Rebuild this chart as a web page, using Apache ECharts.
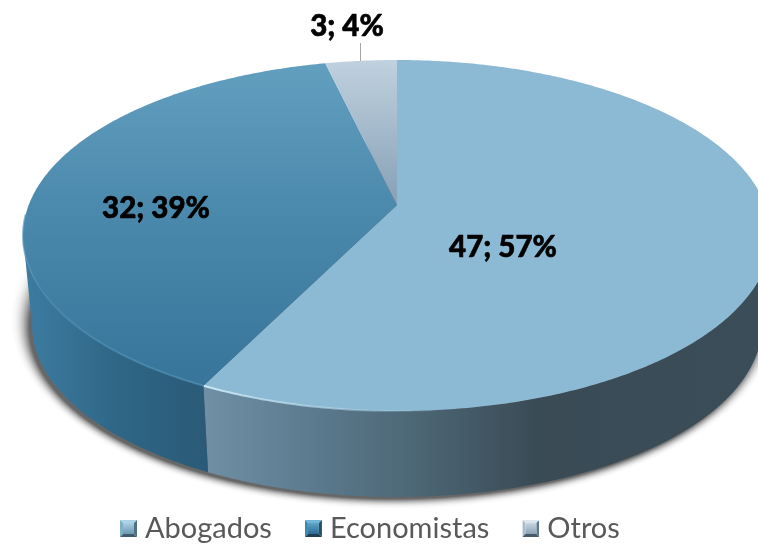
<!DOCTYPE html>
<html><head><meta charset="utf-8">
<style>html,body{margin:0;padding:0;background:#fff}#c{width:758px;height:548px}</style>
<script src="https://cdn.jsdelivr.net/npm/echarts@6/dist/echarts.min.js"></script>
</head><body><div id="c"></div>
<script>
const categories = ['Abogados', 'Economistas', 'Otros'];
const values = [47, 32, 3];
const percents = [57, 39, 4];

const chart = echarts.init(document.getElementById('c'), null, {renderer: 'canvas'});
const total = values.reduce((a, b) => a + b, 0);

// perspective disc: apex, axes and depth of the tilted pie
const CX = 397, CY = 205, A = 368.3, B = 170.2, K = 0.1738;
const TOPC = 235.5, RX = 374, RY = 175.5, BOTC = 325, BRX = 365, BRY = 172;
const top3 = t => {
  const u = Math.sin(t), v = Math.cos(t), w = 1 + K * v;
  return [CX + A * u / w, CY - B * v / w];
};
const bot3 = (t, grow = 0, dx = 0, dy = 0) => {
  const p = top3(t);
  return [CX + dx + (p[0] - CX) * (BRX + grow) / RX, BOTC + dy + (p[1] - TOPC) * (BRY + grow) / RY];
};
const arc = (f, a, b) => {
  const n = Math.max(2, Math.ceil(Math.abs(b - a) / 0.01)), out = [];
  for (let i = 0; i <= n; i++) out.push(f(a + (b - a) * i / n));
  return out;
};
const TAU = Math.PI * 2;
const frontA = Math.acos(-K), frontB = TAU - frontA;
const G = (x0, y0, x1, y1, stops) => new echarts.graphic.LinearGradient(x0, y0, x1, y1,
  stops.map(s => ({offset: s[0], color: s[1]})), true);

const looks = {
  Abogados: {
    face: '#8cb9d3',
    wall: G(205, 0, 758, 0, [[0, '#6f8fa5'], [0.18, '#5d7c90'], [0.36, '#4e6978'], [0.6, '#3a4b56'], [1, '#3b4d58']]),
    rim: G(205, 0, 450, 0, [[0, 'rgba(205,235,248,0.95)'], [0.5, 'rgba(190,225,242,0.55)'], [1, 'rgba(160,205,228,0)']]),
    label: [503, 247]
  },
  Economistas: {
    face: G(0, 62, 0, 384, [[0, '#629fbf'], [0.55, '#4785a9'], [1, '#37769a']]),
    wall: G(28, 0, 209, 0, [[0, '#3c7ba0'], [0.5, '#2f6686'], [1, '#2a5a77']]),
    rim: G(30, 0, 209, 0, [[0, 'rgba(80,145,182,0.6)'], [1, 'rgba(80,145,182,0.7)']]),
    label: [156, 208]
  },
  Otros: {
    face: G(0, 60, 0, 205, [[0, '#c0d1df'], [1, '#86a0b6']]),
    label: [347, 26],
    leader: true
  }
};

let cursor = 0;
const spans = values.map(v => { const s = [cursor, cursor + v / total * TAU]; cursor = s[1]; return s; });

function renderSector(params, api) {
  const i = params.seriesIndex, name = categories[i], look = looks[name];
  const a = spans[i][0], b = spans[i][1];
  const kids = [];
  if (i === 0) {
    for (let d = 18; d >= 0; d--) {
      kids.push({type: 'polygon', shape: {points: arc(t => bot3(t, d, -3, 2 - d * 0.45), 0, TAU)},
        style: {fill: 'rgba(0,0,0,' + (0.006 + 0.11 * Math.pow(1 - d / 18, 2)) + ')'}});
    }
  }
  const wa = Math.max(a, frontA), wb = Math.min(b, frontB);
  if (wb > wa) {
    kids.push({type: 'polygon',
      shape: {points: arc(top3, wa, wb).concat(arc(bot3, wb, wa))},
      style: {fill: look.wall}});
  }
  kids.push({type: 'polygon',
    shape: {points: [[CX, CY]].concat(arc(top3, a, b))},
    style: {fill: look.face}});
  if (look.rim) {
    const ra = i === 0 ? 2.75 : a, rb = i === 0 ? b : Math.min(b, frontB + 0.12);
    kids.push({type: 'polyline', shape: {points: arc(top3, ra, rb)},
      style: {stroke: look.rim, lineWidth: 2, fill: null}});
  }
  if (look.leader) {
    kids.push({type: 'line', shape: {x1: 360.5, y1: 43, x2: 360.5, y2: 61},
      style: {stroke: '#a6a6a6', lineWidth: 1}});
  }
  kids.push({type: 'text', z2: 50, style: {
    x: look.label[0], y: look.label[1],
    text: api.value(0) + '; ' + percents[i] + '%',
    align: 'center', verticalAlign: 'middle',
    font: '900 29.5px Lato', fill: '#000', stroke: '#000', lineWidth: 0.6
  }});
  return {type: 'group', children: kids};
}

const bevel = (top, left, right, bottom, c0, c1) => 'image://data:image/svg+xml;charset=utf-8,' + encodeURIComponent(
  '<svg xmlns="http://www.w3.org/2000/svg" width="17" height="17">' +
  '<defs><linearGradient id="g" x1="0" y1="0" x2="0" y2="1"><stop offset="0" stop-color="' + c0 + '"/><stop offset="1" stop-color="' + c1 + '"/></linearGradient></defs>' +
  '<path d="M0 0H17L14 3H3Z" fill="' + top + '"/><path d="M0 0L3 3V14L0 17Z" fill="' + left + '"/>' +
  '<path d="M17 0V17L14 14V3Z" fill="' + right + '"/><path d="M0 17H17L14 14H3Z" fill="' + bottom + '"/>' +
  '<rect x="3" y="3" width="11" height="11" fill="url(#g)"/></svg>');

chart.setOption({
  animation: false,
  backgroundColor: '#fff',
  legend: {
    show: true, left: 120, top: 514, padding: 0, itemWidth: 17, itemHeight: 17, itemGap: 33,
    textStyle: {fontFamily: 'Lato', fontSize: 29, color: '#595959', padding: [13, 0, 0, 3]},
    data: [
      {name: 'Abogados', icon: bevel('#a8d4e6', '#7faec6', '#4e7186', '#3f5c6e', '#a9cfe2', '#6b97b0')},
      {name: 'Economistas', icon: bevel('#6fb6d8', '#3f86ad', '#234f69', '#1f4156', '#5fa5c9', '#2c6c92')},
      {name: 'Otros', icon: bevel('#dbe6ee', '#a8bccb', '#5f7788', '#465a69', '#c7d6e2', '#8aa2b5')}
    ]
  },
  series: categories.map((name, i) => ({
    type: 'custom', name, coordinateSystem: 'none',
    silent: true, clip: false,
    itemStyle: {color: '#8cb9d3'},
    renderItem: renderSector,
    data: [[values[i]]]
  }))
});
</script></body></html>
